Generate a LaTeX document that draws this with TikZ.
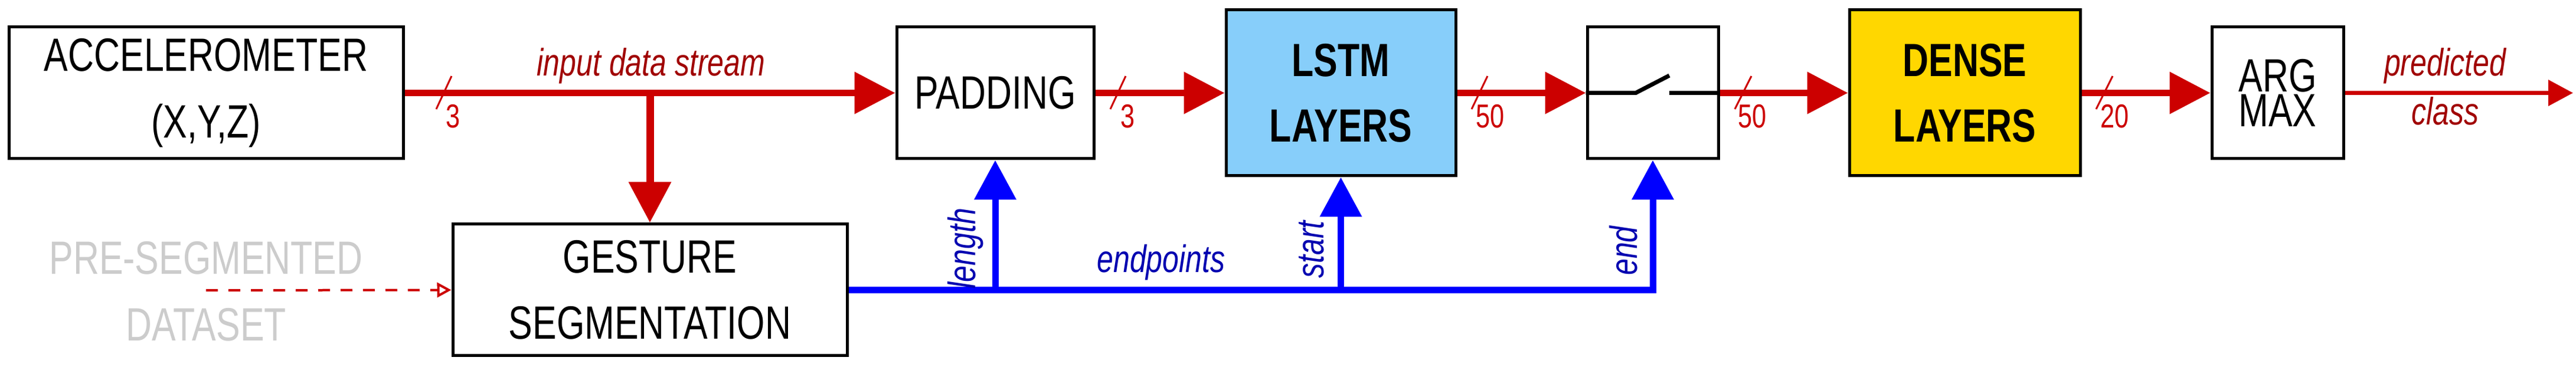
\documentclass[tikz,border=0pt]{standalone}
\usepackage{fontspec}
\setmainfont{Liberation Sans}[FakeStretch=0.77]
\usetikzlibrary{arrows.meta}
\definecolor{cred}{HTML}{CC0000}
\definecolor{dred}{HTML}{A00000}
\definecolor{cblue}{HTML}{0000FF}
\definecolor{lblue}{HTML}{0000B0}
\definecolor{lstmc}{HTML}{87CEFA}
\definecolor{densec}{HTML}{FFD700}
\definecolor{greyt}{HTML}{CCCCCC}
\begin{document}
\begin{tikzpicture}[
  box/.style={draw=black, line width=0.05cm, inner sep=0pt, align=center, fill=white,
    font=\fontsize{22.5}{32}\selectfont},
  bigarr/.style={cred, line width=0.11cm, -{Triangle[length=0.69cm,width=0.69cm]}},
  bluearr/.style={cblue, line width=0.11cm, -{Triangle[length=0.67cm,width=0.69cm]}},
  slash/.style={cred, line width=0.03cm},
  dim/.style={cred, anchor=north west, inner sep=0pt, font=\fontsize{16}{16}\selectfont},
  rlab/.style={dred, inner sep=0pt, font=\fontsize{18.5}{19}\selectfont\itshape},
  blab/.style={lblue, inner sep=0pt, font=\fontsize{18.5}{19}\selectfont\itshape},
]
\useasboundingbox (0,0) rectangle (43.64,-6.22);
% boxes
\node[box, minimum width=6.68cm, minimum height=2.23cm] (acc) at (3.49,-1.575) {ACCELEROMETER\\(X,Y,Z)};
\node[box, minimum width=3.34cm, minimum height=2.23cm] (pad) at (16.86,-1.575) {PADDING};
\node[box, fill=lstmc, minimum width=3.89cm, minimum height=2.81cm, font=\fontsize{22.5}{31.5}\selectfont\bfseries] (lstm) at (22.715,-1.575) {LSTM\\LAYERS};
\node[box, minimum width=2.22cm, minimum height=2.23cm] (sw) at (28.0,-1.575) {};
\node[box, fill=densec, minimum width=3.91cm, minimum height=2.81cm, font=\fontsize{22.5}{31.5}\selectfont\bfseries] (dense) at (33.285,-1.575) {DENSE\\LAYERS};
\node[box, minimum width=2.23cm, minimum height=2.23cm, font=\fontsize{22.5}{15.6}\selectfont] (argmax) at (38.585,-1.575) {ARG\\MAX};
\node[box, minimum width=6.68cm, minimum height=2.23cm] (gest) at (11.01,-4.915) {GESTURE\\SEGMENTATION};
\node[greyt, align=center, inner sep=0pt, font=\fontsize{22.5}{32}\selectfont] (pre) at (3.49,-4.94) {PRE-SEGMENTED\\DATASET};
\coordinate (out) at (43.59,-1.575);
% switch symbol
\draw[black, line width=0.07cm] (sw.west) -- (27.71,-1.575) -- (28.28,-1.28);
\draw[black, line width=0.07cm] (28.28,-1.575) -- (sw.east);
% red connectors
\draw[bigarr] (acc.east) -- (pad.west);
\draw[bigarr, line width=0.13cm] (gest.north |- acc.east) -- (gest.north);
\draw[bigarr] (pad.east) -- (lstm.west);
\draw[bigarr] (lstm.east) -- (sw.west);
\draw[bigarr] (sw.east) -- (dense.west);
\draw[bigarr] (dense.east) -- (argmax.west);
\draw[cred, line width=0.07cm, -{Triangle[length=0.42cm,width=0.43cm]}] (argmax.east) -- (out);
\draw[cred, line width=0.04cm, dash pattern=on 0.2cm off 0.18cm, -{Triangle[open,length=0.24cm,width=0.25cm]}] (pre.center) ++(0,0.02) coordinate (ps) (ps) -- (gest.west);
% blue connectors
\draw[bluearr] (gest.east) -| (sw.south);
\draw[bluearr] (pad.south |- gest.east) -- (pad.south);
\draw[bluearr] (lstm.south |- gest.east) -- (lstm.south);
% bus width marks
\draw[slash] (7.65,-1.29) -- (7.39,-1.85); \node[dim] (d1) at (7.55,-1.77) {3};
\draw[slash] (19.07,-1.29) -- (18.81,-1.85); \node[dim] (d2) at (18.98,-1.77) {3};
\draw[slash] (25.20,-1.29) -- (24.93,-1.85); \node[dim] (d3) at (25.00,-1.77) {50};
\draw[slash] (29.67,-1.29) -- (29.39,-1.85); \node[dim] (d4) at (29.44,-1.77) {50};
\draw[slash] (35.79,-1.29) -- (35.51,-1.85); \node[dim] (d5) at (35.58,-1.77) {20};
% labels
\node[rlab, anchor=base] (l1) at (11.03,-1.29) {input data stream};
\node[rlab, anchor=base] (l2) at (41.42,-1.29) {predicted};
\node[rlab, anchor=base] (l3) at (41.42,-2.12) {class};
\node[blab, anchor=base] (l4) at (19.67,-4.62) {endpoints};
\node[blab, rotate=90] (l5) at (16.36,-4.21) {length};
\node[blab, rotate=90] (l6) at (22.22,-4.23) {start};
\node[blab, rotate=90] (l7) at (27.50,-4.25) {end};
\end{tikzpicture}
\end{document}
